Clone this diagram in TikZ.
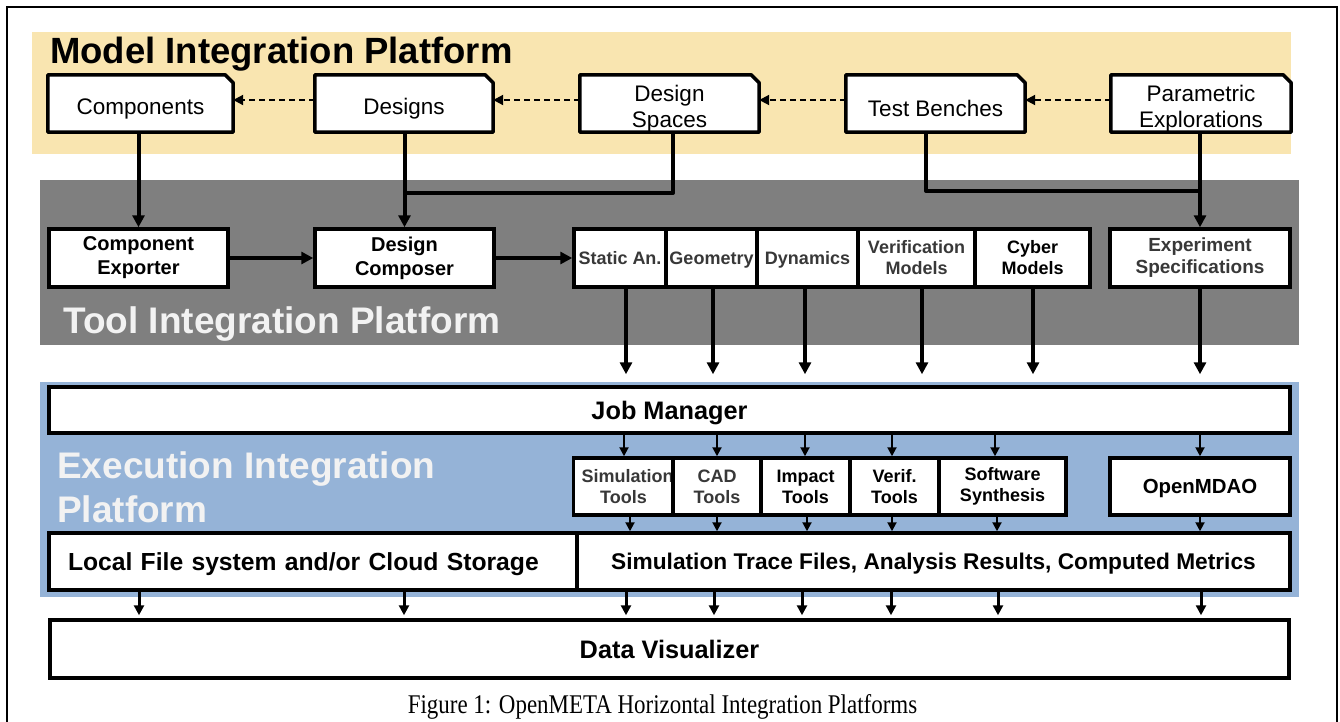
\documentclass[tikz,border=0pt]{standalone}
\usepackage{fontspec}
\setmainfont{Liberation Sans}
\newfontfamily\capfont[FakeStretch=0.85]{Liberation Serif}
\usetikzlibrary{arrows.meta,calc}
\pgfdeclarelayer{bg}\pgfdeclarelayer{mid}\pgfsetlayers{bg,mid,main}
\definecolor{mipyellow}{HTML}{F9E5B0}
\definecolor{tipgray}{HTML}{7F7F7F}
\definecolor{eipblue}{HTML}{95B3D7}
\definecolor{txtgray}{HTML}{383838}
\definecolor{titlewhite}{HTML}{F2F2F2}
\begin{document}
\begin{tikzpicture}[x=1pt,y=-1pt,
  doc/.style={inner sep=0pt, minimum height=57pt, align=center, font=\fontsize{22.5}{26}\selectfont},
  docline/.style={fill=white, line width=3.5pt, line join=round},
  box/.style={draw, line width=3.5pt, fill=white, inner sep=0pt, align=center},
  big/.style={font=\bfseries\fontsize{20}{24}\selectfont},
  small/.style={font=\bfseries\fontsize{18}{21}\selectfont, text=txtgray},
  smallb/.style={font=\bfseries\fontsize{18}{21}\selectfont, text=black},
  wide/.style={font=\bfseries\fontsize{25.3}{28}\selectfont, text depth=0pt},
  title/.style={inner sep=0pt, font=\bfseries\fontsize{37}{44}\selectfont, align=left},
  conn/.style={line width=4pt},
  arr/.style={line width=4pt, -{Triangle[length=12pt,width=12pt]}},
  marr/.style={line width=3pt, -{Triangle[length=10pt,width=10pt]}},
  tarr/.style={line width=2pt, -{Triangle[length=9pt,width=9pt]}},
  darr/.style={line width=2pt, dash pattern=on 6pt off 4pt, -{Triangle[length=10pt,width=10pt]}}
]
\useasboundingbox (0,0) rectangle (1340,721);
% frame
\draw[line width=2pt] (7,730) -- (7,7) -- (1337,7) -- (1337,730);
% bands
\begin{pgfonlayer}{bg}
  \fill[mipyellow] (32,32) rectangle (1291,154);
  \fill[tipgray] (40,180) rectangle (1299,345);
  \fill[eipblue] (40,382) rectangle (1299,597);
\end{pgfonlayer}
% titles
\node[title, anchor=base west] (mip) at (50,63) {\fontsize{36.5}{40}\selectfont Model Integration Platform};
\node[title, anchor=base west, text=titlewhite] (tip) at (63,333) {Tool Integration Platform};
\node[title, anchor=north west, text=titlewhite] (eip) at (57,451) {Execution Integration\\Platform};
% model documents (text sits a little low in its box)
\node[doc, minimum width=185pt] (comp) at (140.5,108.5) {Components};
\node[doc, minimum width=178pt] (des) at (404,108.5) {Designs};
\node[doc, minimum width=179pt] (ds) at (669.5,108.5) {Design\\Spaces};
\node[doc, minimum width=179pt] (tb) at (935.5,108.5) {Test Benches};
\node[doc, minimum width=180pt] (pe) at (1201,108.5) {Parametric\\Explorations};
\begin{pgfonlayer}{mid}
\foreach \n in {comp,des,ds,tb,pe}{
  \filldraw[docline] ([yshift=5pt]\n.south west) -- ([yshift=5pt]\n.north west)
    -- ([xshift=-8pt,yshift=5pt]\n.north east)
    -- ([yshift=-3pt]\n.north east) -- ([yshift=5pt]\n.south east) -- cycle;
}
\end{pgfonlayer}
% tool row
\node[box, big, minimum width=179pt, minimum height=58pt] (ce) at (138.5,258) {Component\\Exporter};
\node[box, big, minimum width=179pt, minimum height=58pt] (dc) at (404.5,258) {Design\\Composer};
\node[box, small, text depth=0pt, minimum width=92pt, minimum height=58pt] (sa) at (620,258) {Static An.};
\node[box, small, text depth=0pt, minimum width=91pt, minimum height=58pt] (geo) at (711.5,258) {Geometry};
\node[box, small, text depth=0pt, minimum width=101pt, minimum height=58pt] (dyn) at (807.5,258) {Dynamics};
\node[box, small, minimum width=117pt, minimum height=58pt] (vm) at (916.5,258) {Verification\\Models};
\node[box, smallb, minimum width=115pt, minimum height=58pt] (cm) at (1032.5,258) {Cyber\\Models};
\node[box, small, font=\bfseries\fontsize{19}{22}\selectfont, minimum width=180pt, minimum height=58pt] (es) at (1200,258) {Experiment\\Specifications};
% execution
\node[box, wide, minimum width=1241pt, minimum height=46pt] (jm) at (669.5,410) {Job Manager};
\node[box, small, minimum width=99pt, minimum height=57pt] (st) at (623.5,486.5) {\hspace*{8pt}Simulation\\Tools};
\node[box, small, minimum width=88pt, minimum height=57pt] (cad) at (717,486.5) {CAD\\Tools};
\node[box, smallb, minimum width=89pt, minimum height=57pt] (imp) at (805.5,486.5) {Impact\\Tools};
\node[box, smallb, minimum width=89pt, minimum height=57pt] (vt) at (894.5,486.5) {Verif.\\Tools};
\node[box, smallb, minimum width=127pt, minimum height=57pt] (ss) at (1002.5,486.5) {Software\\Synthesis};
\node[box, smallb, text depth=0pt, font=\bfseries\fontsize{20.4}{22}\selectfont, minimum width=180pt, minimum height=57pt] (om) at (1200,486.5) {OpenMDAO};
\node[box, text depth=0pt, font=\bfseries\fontsize{24.7}{28}\selectfont, minimum width=528pt, minimum height=57pt, text width=490pt, align=left] (lf) at (313,561.5) {Local File system and/or Cloud Storage};
\node[box, text depth=0pt, font=\bfseries\fontsize{22.7}{26}\selectfont, minimum width=713pt, minimum height=57pt] (tr) at (933.5,561.5) {Simulation Trace Files, Analysis Results, Computed Metrics};
\node[box, wide, minimum width=1239pt, minimum height=58pt] (dv) at (669.5,649) {Data Visualizer};
% caption
\node[anchor=base, inner sep=0pt, font=\capfont\fontsize{27}{30}\selectfont] (cap) at (662.5,713) {Figure 1: OpenMETA Horizontal Integration Platforms};
% dashed dependencies
\draw[darr] ([yshift=8.5pt]des.west) -- ([yshift=8.5pt]comp.east);
\draw[darr] ([yshift=8.5pt]ds.west) -- ([yshift=8.5pt]des.east);
\draw[darr] ([yshift=8.5pt]tb.west) -- ([yshift=8.5pt]ds.east);
\draw[darr] ([yshift=8.5pt]pe.west) -- ([yshift=8.5pt]tb.east);
% model to tool
\coordinate (j1) at (404.5,193);
\coordinate (j2) at (1200,191);
\draw[arr] ([yshift=5pt]ce.north |- comp.south) -- (ce.north);
\draw[arr] ([yshift=5pt]dc.north |- des.south) -- (dc.north);
\draw[conn, line join=round] ([yshift=5pt]673,0 |- ds.south) |- (j1);
\draw[conn, line join=round] ([yshift=5pt]926,0 |- tb.south) |- (j2);
\draw[arr] ([yshift=5pt]es.north |- pe.south) -- (es.north);
\draw[arr] (ce.east) -- (dc.west);
\draw[arr] (dc.east) -- (sa.west);
% tool to job manager
\foreach \x/\n in {626/sa,713/geo,805/dyn,922/vm,1033/cm,1200/es}{
  \draw[arr, shorten >=11pt] (\x,0 |- \n.south) -- (\x,0 |- jm.north);
}
% job manager to tools
\foreach \x/\n in {624/st,717/cad,805/imp,892/vt,995/ss,1200/om}{
  \draw[tarr] (\x,0 |- jm.south) -- (\x,0 |- \n.north);
}
% tools to results
\foreach \x/\n in {630/st,717/cad,807/imp,892/vt,997/ss,1200/om}{
  \draw[tarr] (\x,0 |- \n.south) -- (\x,0 |- tr.north);
}
% storage to visualizer
\foreach \x in {139,404}{
  \draw[marr, shorten >=3pt] (\x,0 |- lf.south) -- (\x,0 |- dv.north);
}
\foreach \x in {626,714,802,891,998,1201}{
  \draw[marr, shorten >=3pt] (\x,0 |- tr.south) -- (\x,0 |- dv.north);
}
\end{tikzpicture}
\end{document}
